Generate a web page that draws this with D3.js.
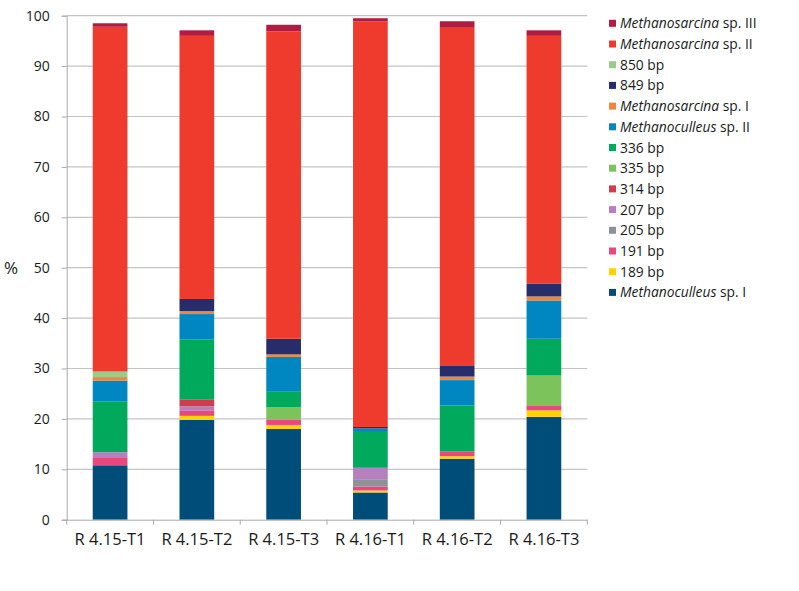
<!DOCTYPE html>
<html>
<head>
<meta charset="utf-8">
<script src="https://cdn.jsdelivr.net/npm/d3@7"></script>
<style>
  body { margin: 0; background: #fff; }
  text { font-family: "Open Sans", sans-serif; fill: #1a1a1a; }
</style>
</head>
<body>
<script>
// Chart data: samples and stacked segments (percent), bottom to top.
const samples = ["R 4.15-T1", "R 4.15-T2", "R 4.15-T3", "R 4.16-T1", "R 4.16-T2", "R 4.16-T3"];
const seriesNames = ["Methanoculleus sp. I", "189 bp", "191 bp", "205 bp", "207 bp", "314 bp", "335 bp", "336 bp",
  "Methanoculleus sp. II", "Methanosarcina sp. I", "849 bp", "850 bp", "Methanosarcina sp. II", "Methanosarcina sp. III"];
const methanoculleusI  = [10.8, 19.8, 18.0, 5.4, 12.1, 20.4];
const bp189            = [0, 0.8, 0.8, 0.4, 0.5, 1.3];
const bp191            = [1.6, 1.1, 1.0, 0.8, 0.9, 1.0];
const bp205            = [0, 0, 0, 1.3, 0, 0];
const bp207            = [1.0, 0.8, 0, 2.4, 0, 0];
const bp314            = [0, 1.3, 0, 0, 0, 0];
const bp335            = [0, 0, 2.5, 0, 0, 5.9];
const bp336            = [10.1, 12.0, 3.2, 7.3, 9.2, 7.3];
const methanoculleusII = [4.1, 5.0, 6.8, 0.5, 5.0, 7.6];
const methanosarcinaI  = [0.7, 0.6, 0.5, 0, 0.7, 0.8];
const bp849            = [0, 2.4, 3.1, 0.3, 2.1, 2.5];
const bp850            = [1.1, 0, 0, 0, 0, 0];
const methanosarcinaII = [68.4, 52.2, 61.0, 80.5, 67.1, 49.2];
const methanosarcinaIII = [0.7, 1.1, 1.3, 0.6, 1.3, 1.1];
const yTicks = [0, 10, 20, 30, 40, 50, 60, 70, 80, 90, 100];

const seriesValues = [methanoculleusI, bp189, bp191, bp205, bp207, bp314, bp335, bp336,
  methanoculleusII, methanosarcinaI, bp849, bp850, methanosarcinaII, methanosarcinaIII];
const colors = ["#004d7a", "#ffd200", "#e8487d", "#8c9298", "#b680bf", "#d23b4c", "#7cc35c", "#00a95c",
  "#0086c0", "#f0863c", "#272c6b", "#9ccb87", "#ee3b2d", "#b11d42"];
const italicPart = { "Methanoculleus sp. I": "Methanoculleus", "Methanoculleus sp. II": "Methanoculleus",
  "Methanosarcina sp. I": "Methanosarcina", "Methanosarcina sp. II": "Methanosarcina", "Methanosarcina sp. III": "Methanosarcina" };

const width = 799, height = 591;
const margin = { left: 66.7, right: 211.7, top: 15.7, bottom: 71.3 };

const svg = d3.select("body").append("svg")
    .attr("width", width)
    .attr("height", height);

const table = samples.map((s, i) => {
  const row = { sample: s };
  seriesNames.forEach((n, j) => row[n] = seriesValues[j][i]);
  return row;
});
const stacked = d3.stack().keys(seriesNames)(table);

const x = d3.scaleBand()
    .domain(samples)
    .range([margin.left, width - margin.right]);
const y = d3.scaleLinear()
    .domain([0, 100])
    .range([height - margin.bottom, margin.top]);
const barW = x.bandwidth() * 0.4;

// Gridlines
svg.append("g").selectAll("line")
  .data(yTicks.filter(d => d > 0))
  .enter().append("line")
    .attr("x1", margin.left).attr("x2", width - margin.right)
    .attr("y1", d => y(d)).attr("y2", d => y(d))
    .attr("stroke", "#c4c4c4").attr("stroke-width", 1.2);

// Bars
svg.append("g").selectAll("g")
  .data(stacked)
  .enter().append("g")
    .attr("fill", (d, i) => colors[i])
  .selectAll("rect")
  .data(d => d.filter(s => s[1] - s[0] > 0))
  .enter().append("rect")
    .attr("x", d => x(d.data.sample) + (x.bandwidth() - barW) / 2)
    .attr("width", barW)
    .attr("y", d => y(d[1]))
    .attr("height", d => y(d[0]) - y(d[1]));

// Y axis
const yAxis = svg.append("g")
    .attr("transform", `translate(${margin.left},0)`)
    .call(d3.axisLeft(y).tickValues(yTicks).tickSize(5).tickPadding(12));
yAxis.selectAll("text").attr("font-size", 14).style("font-family", "'Open Sans', sans-serif");
yAxis.selectAll("line, path").attr("stroke", "#a8a8a8");

// X axis
const xAxis = svg.append("g")
    .attr("transform", `translate(0,${y(0)})`)
    .call(d3.axisBottom(x).tickSize(0).tickPadding(14));
xAxis.selectAll("text").attr("font-size", 16.5).style("font-family", "'Open Sans', sans-serif");
xAxis.selectAll(".bound").data(d3.range(samples.length + 1))
  .enter().append("line")
    .attr("x1", i => margin.left + i * x.step()).attr("x2", i => margin.left + i * x.step())
    .attr("y1", 0).attr("y2", 5);
xAxis.selectAll("line, path").attr("stroke", "#a8a8a8");

svg.append("text")
    .attr("x", 4).attr("y", y(50) + 6)
    .attr("font-size", 17)
    .text("%");

// Legend, top entry first
const legend = svg.append("g").selectAll("g")
  .data(seriesNames.map((n, i) => ({ name: n, color: colors[i] })).reverse())
  .enter().append("g")
    .attr("transform", (d, i) => `translate(609,${23.3 + i * 20.7})`);
legend.append("rect")
    .attr("y", -3.5).attr("width", 7).attr("height", 7)
    .attr("fill", d => d.color);
const lt = legend.append("text")
    .attr("x", 11).attr("y", 5)
    .attr("font-size", 13.8);
lt.each(function(d) {
  const t = d3.select(this);
  const it = italicPart[d.name];
  if (it) {
    t.append("tspan").attr("font-style", "italic").text(it);
    t.append("tspan").text(d.name.slice(it.length));
  } else {
    t.text(d.name);
  }
});
</script>
</body>
</html>
